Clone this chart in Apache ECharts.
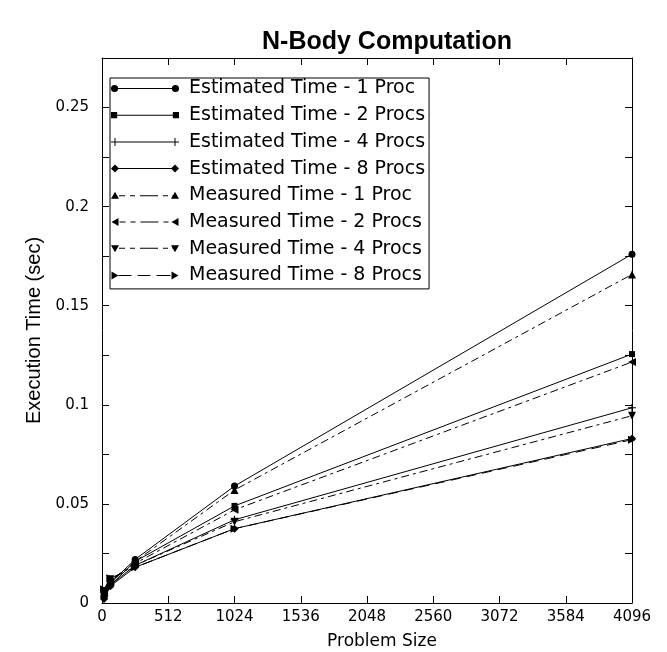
<!DOCTYPE html>
<html>
<head>
<meta charset="utf-8">
<title>N-Body Computation</title>
<script src="https://cdn.jsdelivr.net/npm/echarts@6.0.0/dist/echarts.min.js"></script>
<style>
  html, body { margin: 0; padding: 0; background: #fff; }
  #chart { width: 667px; height: 652px; }
</style>
</head>
<body>
<div id="chart"></div>
<script>
// problem sizes on the x axis
const problemSizes = [16, 64, 256, 1024, 4096]

// estimated execution time (sec)
const estTime1 = [0.004, 0.010, 0.022, 0.059, 0.176]
const estTime2 = [0.003, 0.009, 0.021, 0.049, 0.1256]
const estTime4 = [0.0025, 0.009, 0.019, 0.042, 0.0985]
const estTime8 = [0.002, 0.0085, 0.018, 0.0375, 0.083]

// measured execution time (sec)
const measTime1 = [0.005, 0.011, 0.021, 0.057, 0.1658]
const measTime2 = [0.005, 0.011, 0.020, 0.047, 0.1216]
const measTime4 = [0.006, 0.012, 0.019, 0.041, 0.0945]
const measTime8 = [0.007, 0.0125, 0.018, 0.0375, 0.0824]

const seriesNames = [
  'Estimated Time - 1 Proc',
  'Estimated Time - 2 Procs',
  'Estimated Time - 4 Procs',
  'Estimated Time - 8 Procs',
  'Measured Time - 1 Proc',
  'Measured Time - 2 Procs',
  'Measured Time - 4 Procs',
  'Measured Time - 8 Procs'
]
const seriesValues = [estTime1, estTime2, estTime4, estTime8, measTime1, measTime2, measTime4, measTime8]

// axis tick labels
const xTickLabels = ['0', '512', '1024', '1536', '2048', '2560', '3072', '3584', '4096']
const yTickLabels = ['0', '0.05', '0.1', '0.15', '0.2', '0.25']

const FONT = 'DejaVu Sans'

// plus marker for the 4 procs estimate
const plusPath = 'path://M3 0H4V3H7V4H4V7H3V4H0V3H3Z'

// series look: symbol, rotate, size, dash
const looks = [
  { symbol: 'circle', rotate: 0, size: 7, dash: 'solid' },
  { symbol: 'rect', rotate: 0, size: 6, dash: 'solid' },
  { symbol: plusPath, rotate: 0, size: 8, dash: 'solid' },
  { symbol: 'diamond', rotate: 0, size: 8, dash: 'solid' },
  { symbol: 'triangle', rotate: 0, size: 8, dash: [8, 4, 3, 4] },
  { symbol: 'triangle', rotate: 90, size: 8, dash: [8, 4, 3, 4] },
  { symbol: 'triangle', rotate: 180, size: 8, dash: [8, 4, 3, 4] },
  { symbol: 'triangle', rotate: -90, size: 8, dash: [10, 6] }
]

// legend icons: gnuplot style, marker at both ends of the sample line
const W = 68
const c1 = 4, c2 = W - 4
const mk = {
  circle: c => `M${c - 3.5} 4A3.5 3.5 0 1 1 ${c + 3.5} 4A3.5 3.5 0 1 1 ${c - 3.5} 4Z`,
  square: c => `M${c - 3} 1H${c + 3}V7H${c - 3}Z`,
  plus: c => `M${c - 0.5} 0H${c + 0.5}V3.5H${c + 4}V4.5H${c + 0.5}V8H${c - 0.5}V4.5H${c - 4}V3.5H${c - 0.5}Z`,
  diamond: c => `M${c} 0L${c + 4} 4L${c} 8L${c - 4} 4Z`,
  up: c => `M${c} 0L${c + 4} 7L${c - 4} 7Z`,
  left: c => `M${c - 4} 4L${c + 3} 0L${c + 3} 8Z`,
  down: c => `M${c - 4} 1L${c + 4} 1L${c} 8Z`,
  right: c => `M${c + 4} 4L${c - 3} 8L${c - 3} 0Z`
}
const seg = (a, b) => `M${a} 3.5H${b}V4.5H${a}Z`
const solidLine = seg(7, W - 7)
const dashDot = seg(8, 14) + seg(19, 24) + seg(29, 47) + seg(52, 57) + seg(61, 61.5)
const longDash = seg(8, 21) + seg(27, 40) + seg(46, 60)
const iconOf = (m, line) => 'path://' + mk[m](c1) + line + mk[m](c2)
const legendIcons = [
  iconOf('circle', solidLine),
  iconOf('square', solidLine),
  iconOf('plus', solidLine),
  iconOf('diamond', solidLine),
  iconOf('up', dashDot),
  iconOf('left', dashDot),
  iconOf('down', dashDot),
  iconOf('right', longDash)
]

const chart = echarts.init(document.getElementById('chart'))

const series = seriesNames.map((name, i) => ({
  name: name,
  type: 'line',
  data: problemSizes.map((x, j) => [x, seriesValues[i][j]]),
  symbol: looks[i].symbol,
  symbolRotate: looks[i].rotate,
  symbolSize: looks[i].size,
  showAllSymbol: true,
  silent: true,
  animation: false,
  itemStyle: { color: '#000', borderWidth: 0 },
  lineStyle: { color: '#000', width: 1, type: looks[i].dash }
}))

// frame axes: line on every side, ticks pointing inward
const axisCommon = {
  axisLine: { show: true, onZero: false, lineStyle: { color: '#000', width: 1 } },
  axisTick: { show: true, inside: true, length: 7, lineStyle: { color: '#000' } },
  splitLine: { show: false }
}

const option = {
  backgroundColor: '#fff',
  animation: false,
  title: {
    text: 'N-Body Computation',
    left: 382,
    top: 25,
    textAlign: 'center',
    textStyle: { fontFamily: 'Liberation Sans', fontWeight: 'bold', fontSize: 25, color: '#000' }
  },
  legend: {
    orient: 'vertical',
    left: 110,
    top: 78,
    padding: [1, 4, 4, 1],
    borderColor: '#000',
    borderWidth: 1,
    itemWidth: W,
    itemHeight: 8,
    itemGap: 7.7,
    selectedMode: false,
    itemStyle: { borderWidth: 0 },
    textStyle: { fontFamily: FONT, fontSize: 19, color: '#000', lineHeight: 14, padding: [4, 0, 0, 5] },
    data: seriesNames.map((name, i) => ({ name: name, icon: legendIcons[i] }))
  },
  grid: { left: 102, right: 35, top: 58, bottom: 49, containLabel: false, outerBoundsMode: 'none' },
  xAxis: [
    Object.assign({}, axisCommon, {
      type: 'value',
      min: 0,
      max: 4096,
      interval: 512,
      name: 'Problem Size',
      nameLocation: 'middle',
      nameGap: 30,
      nameTextStyle: { fontFamily: FONT, fontSize: 17, color: '#000', padding: [0, 0, 0, 30] },
      axisLabel: {
        fontFamily: FONT, fontSize: 15, color: '#000', margin: 7,
        formatter: v => xTickLabels[Math.round(v / 512)]
      }
    }),
    Object.assign({}, axisCommon, {
      type: 'value', position: 'top', min: 0, max: 4096, interval: 512,
      axisLabel: { show: false }
    })
  ],
  yAxis: [
    Object.assign({}, axisCommon, {
      type: 'value',
      min: 0,
      max: 0.275,
      interval: 0.025,
      name: 'Execution Time (sec)',
      nameLocation: 'middle',
      nameGap: 58,
      nameTextStyle: { fontFamily: ['Liberation Sans Narrow', 'Liberation Sans'], fontSize: 20, color: '#000' },
      axisLabel: {
        fontFamily: FONT, fontSize: 15, color: '#000', margin: 13,
        formatter: v => {
          const k = Math.round(v / 0.025)
          return k % 2 === 0 && yTickLabels[k / 2] !== undefined ? yTickLabels[k / 2] : ''
        }
      }
    }),
    Object.assign({}, axisCommon, {
      type: 'value', position: 'right', min: 0, max: 0.275, interval: 0.025,
      axisLabel: { show: false }
    })
  ],
  series: series
}

chart.setOption(option)
</script>
</body>
</html>
